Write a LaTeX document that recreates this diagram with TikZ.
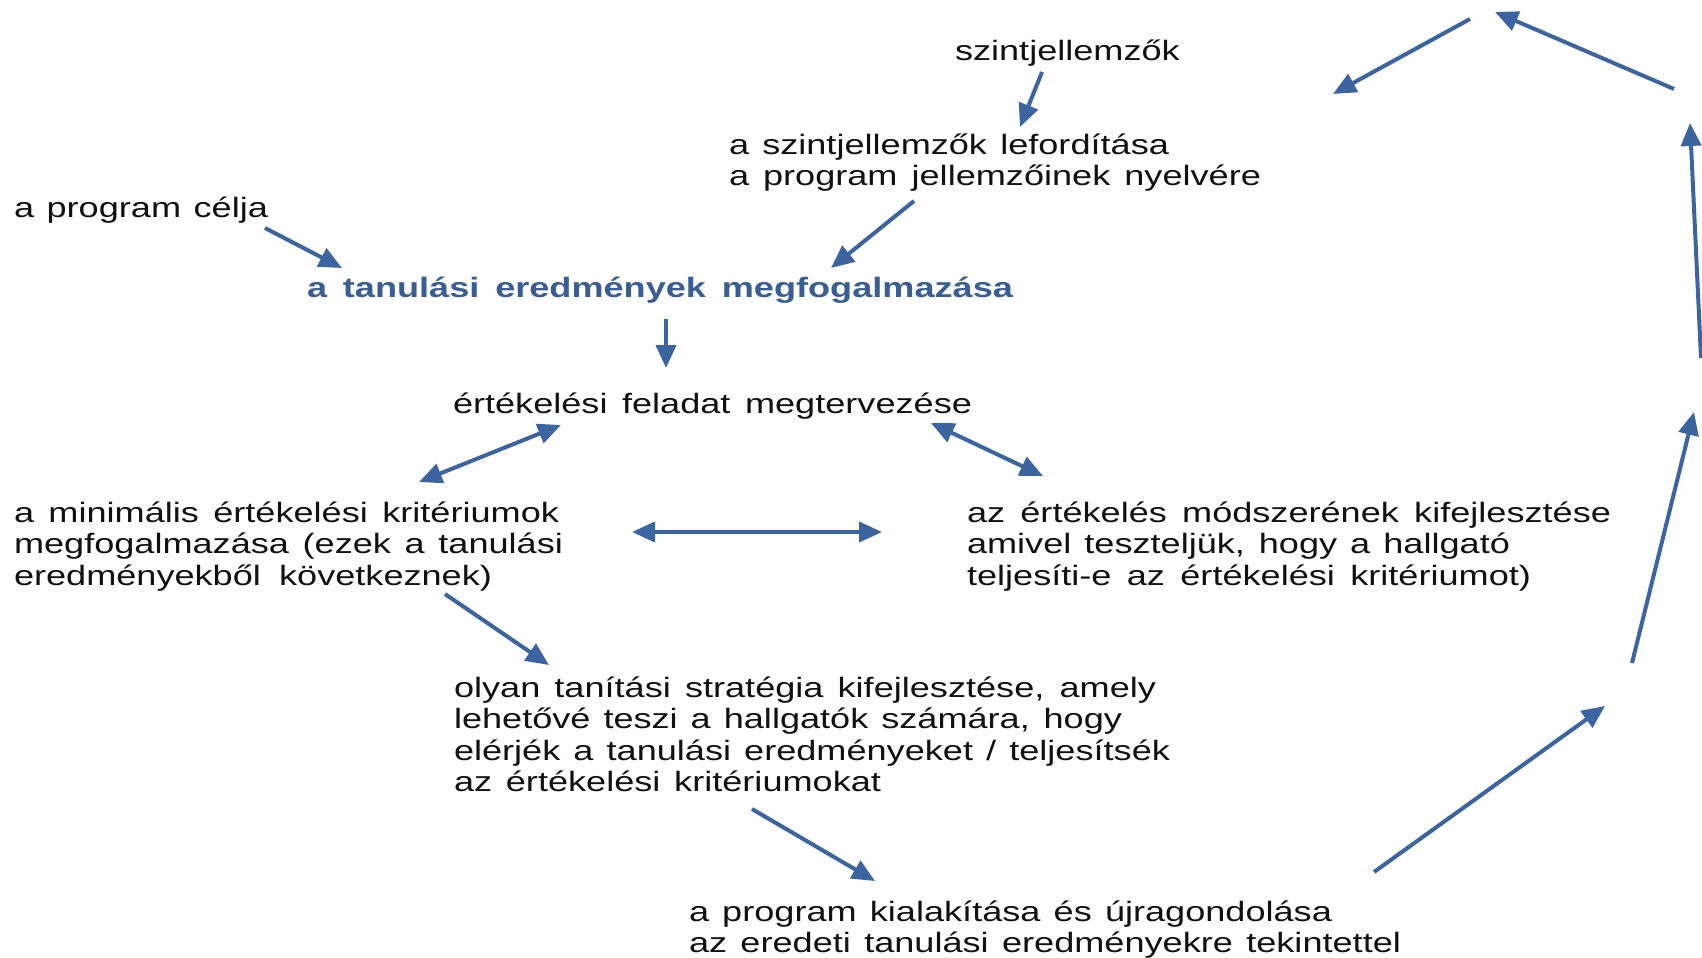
\documentclass[tikz,border=0pt]{standalone}
\usepackage{fontspec}
\setmainfont{Liberation Sans}[FakeStretch=1.29]
\usetikzlibrary{arrows.meta}
\definecolor{arr}{RGB}{60,100,160}
\definecolor{bluetxt}{RGB}{58,94,148}
\definecolor{txt}{RGB}{17,17,17}
\newcommand\tline[2]{\hbox to #1pt{#2}}
\tikzset{
  lbl/.style={anchor=base west, inner sep=0pt, outer sep=0pt, text=txt, font=\fontsize{28}{31.5}\selectfont},
  arrowline/.style={draw=arr, line width=4pt, -{Triangle[length=23pt,width=20pt]}},
  dblarrow/.style={draw=arr, line width=4pt, {Triangle[length=23pt,width=20pt]}-{Triangle[length=23pt,width=20pt]}},
}
\begin{document}
\begin{tikzpicture}[x=1pt,y=-1pt]
\fill[white] (0,0) rectangle (1702,958);
\useasboundingbox (0,0) rectangle (1702,958);

% texts
\node[lbl] (szint) at (955,61) {\tline{226}{szintjellemzők}};
\node[lbl] (fordit) at (729,154) {\vtop{\tline{440}{a szintjellemzők lefordítása}\tline{532}{a program jellemzőinek nyelvére}}};
\node[lbl] (celja) at (14,217) {\tline{254}{a program célja}};
\node[lbl, text=bluetxt, font=\fontsize{28}{31.5}\selectfont\bfseries] (eredm) at (307,297) {\tline{706}{a tanulási eredmények megfogalmazása}};
\node[lbl] (feladat) at (453,413) {\tline{519}{értékelési feladat megtervezése}};
\node[lbl] (krit) at (14,522) {\vtop{\tline{545}{a minimális értékelési kritériumok}\tline{549}{megfogalmazása (ezek a tanulási}\tline{478}{eredményekből következnek)}}};
\node[lbl] (modszer) at (967,522) {\vtop{\tline{644}{az értékelés módszerének kifejlesztése}\tline{543}{amivel teszteljük, hogy a hallgató}\tline{564}{teljesíti-e az értékelési kritériumot)}}};
\node[lbl] (strat) at (454,697) {\vtop{\tline{702}{olyan tanítási stratégia kifejlesztése, amely}\tline{668}{lehetővé teszi a hallgatók számára, hogy}\tline{716}{elérjék a tanulási eredményeket / teljesítsék}\tline{427}{az értékelési kritériumokat}}};
\node[lbl] (program) at (689,921) {\vtop{\tline{643}{a program kialakítása és újragondolása}\tline{712}{az eredeti tanulási eredményekre tekintettel}}};

% arrow end points
\coordinate (a1) at (1042,72);   \coordinate (b1) at (1020,127);
\coordinate (a2) at (914,201);   \coordinate (b2) at (831,268);
\coordinate (a3) at (265,228);   \coordinate (b3) at (342,268);
\coordinate (a4) at (666,319);   \coordinate (b4) at (666,368);
\coordinate (a5) at (561,425);   \coordinate (b5) at (419,482);
\coordinate (a6) at (931,423);   \coordinate (b6) at (1043,476);
\coordinate (a7) at (632,532);   \coordinate (b7) at (882,532);
\coordinate (a8) at (445,594);   \coordinate (b8) at (549,665);
\coordinate (a9) at (752,809);   \coordinate (b9) at (875,881);
\coordinate (a10) at (1374,872); \coordinate (b10) at (1605,706);
\coordinate (a11) at (1632,663); \coordinate (b11) at (1694,412);
\coordinate (a12) at (1701,358); \coordinate (b12) at (1690,123);
\coordinate (a13) at (1674,89);  \coordinate (b13) at (1495,12);
\coordinate (a14) at (1470,19);  \coordinate (b14) at (1333,94);

\draw[arrowline] (a1) -- (b1);
\draw[arrowline] (a2) -- (b2);
\draw[arrowline] (a3) -- (b3);
\draw[arrowline] (a4) -- (b4);
\draw[dblarrow] (b5) -- (a5);
\draw[dblarrow] (a6) -- (b6);
\draw[dblarrow] (a7) -- (b7);
\draw[arrowline] (a8) -- (b8);
\draw[arrowline] (a9) -- (b9);
\draw[arrowline] (a10) -- (b10);
\draw[arrowline] (a11) -- (b11);
\draw[arrowline] (a12) -- (b12);
\draw[arrowline] (a13) -- (b13);
\draw[arrowline] (a14) -- (b14);
\end{tikzpicture}
\end{document}
